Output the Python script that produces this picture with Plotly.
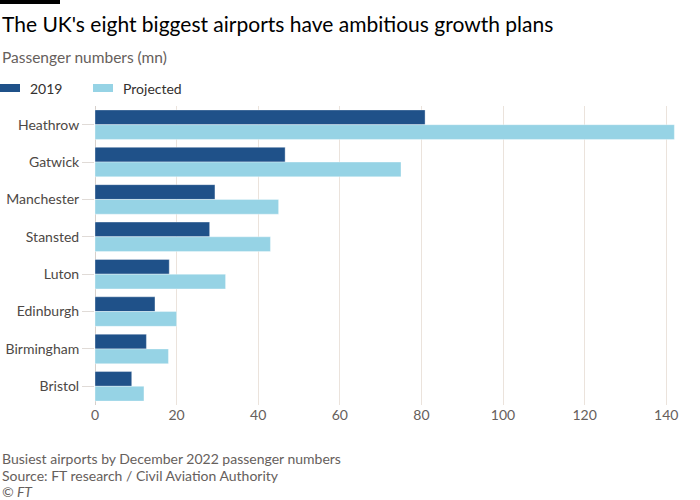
import plotly.graph_objects as go

airports = ["Heathrow", "Gatwick", "Manchester", "Stansted", "Luton", "Edinburgh", "Birmingham", "Bristol"]
pax_2019 = [80.9, 46.6, 29.4, 28.1, 18.2, 14.7, 12.6, 9.0]
pax_projected = [142, 75, 45, 43, 32, 20, 18, 12]
x_ticks = [0, 20, 40, 60, 80, 100, 120, 140]

C2019 = "#1f5189"
CPROJ = "#96d3e5"
FONT = "Lato, 'Noto Sans', sans-serif"

fig = go.Figure()
fig.add_trace(go.Bar(y=airports, x=pax_2019, orientation="h", name="2019",
                     marker=dict(color=C2019, line=dict(width=0.6, color="rgba(255,255,255,0.6)")),
                     hoverinfo="x+y"))
fig.add_trace(go.Bar(y=airports, x=pax_projected, orientation="h", name="Projected",
                     marker=dict(color=CPROJ, line=dict(width=0.6, color="rgba(255,255,255,0.6)")),
                     hoverinfo="x+y"))

fig.update_layout(
    width=700, height=500,
    margin=dict(l=95, r=24, t=106, b=95, autoexpand=False),
    paper_bgcolor="white", plot_bgcolor="white",
    barmode="group", bargap=0.21, bargroupgap=0,
    showlegend=False,
    font=dict(family=FONT, color="#33302e", size=14),
    xaxis=dict(range=[0, 142.4], tickvals=x_ticks, showgrid=True, gridcolor="#ebe3dc",
               gridwidth=1, zeroline=True, zerolinecolor="#d6d0cb", zerolinewidth=1,
               tickfont=dict(size=14, color="#66605c"), ticks="", showline=False,
               fixedrange=True, automargin=False),
    yaxis=dict(autorange="reversed", ticks="outside", ticklen=12, tickcolor="#e0dbd7",
               tickwidth=1, showgrid=False, zeroline=False, showline=False,
               tickfont=dict(size=14, color="#4d4845"), fixedrange=True, automargin=False),
)

def px_x(x):
    return (x - 95) / 581

def px_y(y):
    return (405 - y) / 299

# FT top bar
fig.add_shape(type="rect", xref="paper", yref="paper", x0=px_x(0), x1=px_x(60),
              y0=px_y(4), y1=px_y(0), fillcolor="black", line=dict(width=0))

annos = [
    dict(text="The UK's eight biggest airports have ambitious growth plans", x=0, y=24, size=21, color="#000000"),
    dict(text="Passenger numbers (mn)", x=0, y=57, size=15.5, color="#66605c"),
    dict(text="2019", x=28, y=88, size=14, color="#33302e"),
    dict(text="Projected", x=121, y=88, size=14, color="#33302e"),
    dict(text="Busiest airports by December 2022 passenger numbers", x=0, y=458, size=14, color="#66605c"),
    dict(text="Source: FT research / Civil Aviation Authority", x=0, y=475, size=14, color="#66605c"),
    dict(text="<i>© FT</i>", x=0, y=491, size=14, color="#66605c"),
]
for a in annos:
    fig.add_annotation(text=a["text"], xref="paper", yref="paper", x=px_x(a["x"]), y=px_y(a["y"]),
                       xanchor="left", yanchor="middle", showarrow=False,
                       font=dict(size=a["size"], color=a["color"], family=FONT))

# legend swatches
for x0, col in [(0, C2019), (93, CPROJ)]:
    fig.add_shape(type="rect", xref="paper", yref="paper", x0=px_x(x0), x1=px_x(x0 + 20),
                  y0=px_y(92), y1=px_y(84), fillcolor=col, line=dict(width=0))

fig.write_html("out.html", config={"displayModeBar": False},
               post_script="document.body.style.margin='0';document.body.style.overflow='hidden';")
